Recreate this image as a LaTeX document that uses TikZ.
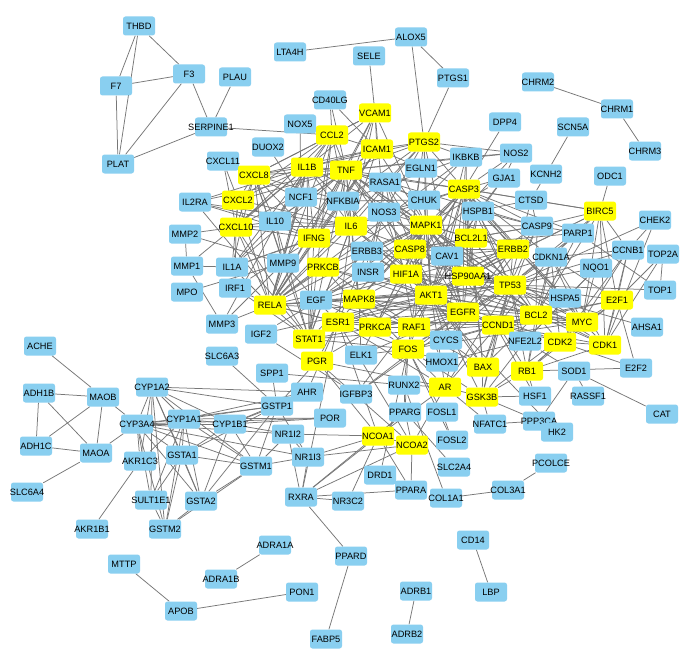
\documentclass[tikz,border=0pt]{standalone}
\usepackage{fontspec}
\setmainfont{Liberation Sans}
\usepackage{xcolor}
\usepackage{tikz}
\usetikzlibrary{positioning}
\definecolor{geneBlue}{HTML}{89CFF0}
\definecolor{hubYellow}{HTML}{FFFF00}
\definecolor{edgeGray}{HTML}{777777}
\pgfdeclarelayer{edges}
\pgfsetlayers{edges,main}
\newcommand{\gene}[1]{\makebox[0pt]{#1}}
\tikzset{
    gene_blue/.style={
        rectangle, rounded corners=2.5pt, fill=geneBlue, draw=none,
        minimum width=32pt, minimum height=19pt, inner sep=0pt,
        font=\fontsize{9.2}{11}\selectfont, text=black
    },
    gene_hub/.style={
        gene_blue, fill=hubYellow
    },
    ppi_edge/.style={
        draw=edgeGray, line width=0.75pt
    }
}

\begin{document}
\begin{tikzpicture}[x=1pt, y=-1pt]
    \useasboundingbox (0,0) rectangle (693,658);

    % coagulation / top-left
    \node[gene_blue] (THBD) at (139, 26) {\gene{THBD}};
    \node[gene_blue] (F3) at (189, 74) {\gene{F3}};
    \node[gene_blue] (F7) at (116, 86) {\gene{F7}};
    \node[gene_blue] (PLAU) at (235, 77) {\gene{PLAU}};
    \node[gene_blue] (SERPINE1) at (211, 127) {\gene{SERPINE1}};
    \node[gene_blue] (PLAT) at (118, 164) {\gene{PLAT}};
    \node[gene_blue] (LTA4H) at (290, 52) {\gene{LTA4H}};
    \node[gene_blue] (ALOX5) at (411, 37) {\gene{ALOX5}};
    \node[gene_blue] (SELE) at (369, 56) {\gene{SELE}};
    \node[gene_blue] (PTGS1) at (453, 78) {\gene{PTGS1}};
    \node[gene_blue] (CHRM2) at (538, 82) {\gene{CHRM2}};
    \node[gene_blue] (CHRM1) at (617, 109) {\gene{CHRM1}};
    \node[gene_blue] (CHRM3) at (645, 151) {\gene{CHRM3}};

    % upper core
    \node[gene_blue] (CD40LG) at (330, 100) {\gene{CD40LG}};
    \node[gene_hub] (VCAM1) at (375, 113) {\gene{VCAM1}};
    \node[gene_blue] (NOX5) at (300, 124) {\gene{NOX5}};
    \node[gene_hub] (CCL2) at (332, 135) {\gene{CCL2}};
    \node[gene_hub] (PTGS2) at (424, 142) {\gene{PTGS2}};
    \node[gene_hub] (ICAM1) at (377, 149) {\gene{ICAM1}};
    \node[gene_blue] (DUOX2) at (268, 147) {\gene{DUOX2}};
    \node[gene_hub] (IL1B) at (307, 167) {\gene{IL1B}};
    \node[gene_hub] (TNF) at (346, 170) {\gene{TNF}};
    \node[gene_blue] (EGLN1) at (421, 168) {\gene{EGLN1}};
    \node[gene_blue] (IKBKB) at (466, 157) {\gene{IKBKB}};
    \node[gene_blue] (NOS2) at (516, 153) {\gene{NOS2}};
    \node[gene_blue] (DPP4) at (505, 122) {\gene{DPP4}};
    \node[gene_blue] (SCN5A) at (573, 127) {\gene{SCN5A}};
    \node[gene_blue] (GJA1) at (504, 178) {\gene{GJA1}};
    \node[gene_blue] (KCNH2) at (546, 174) {\gene{KCNH2}};
    \node[gene_blue] (ODC1) at (610, 176) {\gene{ODC1}};
    \node[gene_blue] (CXCL11) at (223, 161) {\gene{CXCL11}};
    \node[gene_hub] (CXCL8) at (254, 175) {\gene{CXCL8}};
    \node[gene_blue] (IL2RA) at (195, 202) {\gene{IL2RA}};
    \node[gene_hub] (CXCL2) at (238, 200) {\gene{CXCL2}};
    \node[gene_blue] (NCF1) at (301, 197) {\gene{NCF1}};
    \node[gene_blue] (NFKBIA) at (343, 201) {\gene{NFKBIA}};
    \node[gene_blue] (RASA1) at (385, 182) {\gene{RASA1}};
    \node[gene_blue] (CHUK) at (424, 200) {\gene{CHUK}};
    \node[gene_hub] (CASP3) at (464, 189) {\gene{CASP3}};
    \node[gene_blue] (NOS3) at (384, 212) {\gene{NOS3}};
    \node[gene_blue] (HSPB1) at (478, 211) {\gene{HSPB1}};
    \node[gene_blue] (CTSD) at (531, 200) {\gene{CTSD}};
    \node[gene_hub] (BIRC5) at (600, 211) {\gene{BIRC5}};
    \node[gene_blue] (CHEK2) at (655, 220) {\gene{CHEK2}};
    \node[gene_hub] (CXCL10) at (236, 227) {\gene{CXCL10}};
    \node[gene_blue] (IL10) at (275, 221) {\gene{IL10}};
    \node[gene_hub] (IL6) at (351, 226) {\gene{IL6}};
    \node[gene_hub] (MAPK1) at (426, 225) {\gene{MAPK1}};
    \node[gene_blue] (CASP9) at (537, 226) {\gene{CASP9}};
    \node[gene_blue] (PARP1) at (578, 233) {\gene{PARP1}};
    \node[gene_hub] (BCL2L1) at (471, 238) {\gene{BCL2L1}};
    \node[gene_hub] (ERBB2) at (513, 249) {\gene{ERBB2}};
    \node[gene_blue] (CCNB1) at (628, 250) {\gene{CCNB1}};
    \node[gene_blue] (TOP2A) at (663, 254) {\gene{TOP2A}};

    % middle core
    \node[gene_blue] (MMP2) at (185, 234) {\gene{MMP2}};
    \node[gene_blue] (MMP1) at (187, 266) {\gene{MMP1}};
    \node[gene_blue] (MPO) at (187, 292) {\gene{MPO}};
    \node[gene_blue] (IL1A) at (232, 267) {\gene{IL1A}};
    \node[gene_blue] (IRF1) at (235, 288) {\gene{IRF1}};
    \node[gene_hub] (IFNG) at (314, 238) {\gene{IFNG}};
    \node[gene_blue] (MMP9) at (283, 263) {\gene{MMP9}};
    \node[gene_hub] (PRKCB) at (323, 267) {\gene{PRKCB}};
    \node[gene_blue] (ERBB3) at (367, 251) {\gene{ERBB3}};
    \node[gene_hub] (CASP8) at (410, 249) {\gene{CASP8}};
    \node[gene_blue] (CAV1) at (447, 256) {\gene{CAV1}};
    \node[gene_blue] (INSR) at (368, 272) {\gene{INSR}};
    \node[gene_hub] (HIF1A) at (406, 274) {\gene{HIF1A}};
    \node[gene_hub] (HSP90AA1) at (468, 276) {\gene{HSP90AA1}};
    \node[gene_hub] (TP53) at (510, 285) {\gene{TP53}};
    \node[gene_blue] (CDKN1A) at (551, 257) {\gene{CDKN1A}};
    \node[gene_blue] (NQO1) at (596, 268) {\gene{NQO1}};
    \node[gene_blue] (TOP1) at (660, 290) {\gene{TOP1}};
    \node[gene_blue] (HSPA5) at (565, 298) {\gene{HSPA5}};
    \node[gene_hub] (E2F1) at (617, 300) {\gene{E2F1}};
    \node[gene_blue] (AHSA1) at (647, 327) {\gene{AHSA1}};
    \node[gene_hub] (RELA) at (270, 305) {\gene{RELA}};
    \node[gene_blue] (EGF) at (316, 300) {\gene{EGF}};
    \node[gene_hub] (MAPK8) at (359, 299) {\gene{MAPK8}};
    \node[gene_hub] (AKT1) at (431, 295) {\gene{AKT1}};
    \node[gene_hub] (EGFR) at (463, 312) {\gene{EGFR}};
    \node[gene_hub] (BCL2) at (536, 315) {\gene{BCL2}};
    \node[gene_hub] (MYC) at (582, 322) {\gene{MYC}};
    \node[gene_blue] (MMP3) at (222, 324) {\gene{MMP3}};
    \node[gene_blue] (IGF2) at (261, 334) {\gene{IGF2}};
    \node[gene_hub] (ESR1) at (338, 322) {\gene{ESR1}};
    \node[gene_hub] (PRKCA) at (375, 327) {\gene{PRKCA}};
    \node[gene_hub] (RAF1) at (414, 327) {\gene{RAF1}};
    \node[gene_hub] (CCND1) at (498, 325) {\gene{CCND1}};
    \node[gene_hub] (STAT1) at (309, 339) {\gene{STAT1}};
    \node[gene_blue] (SLC6A3) at (222, 356) {\gene{SLC6A3}};
    \node[gene_blue] (ELK1) at (361, 355) {\gene{ELK1}};
    \node[gene_hub] (FOS) at (408, 349) {\gene{FOS}};
    \node[gene_blue] (CYCS) at (446, 340) {\gene{CYCS}};
    \node[gene_blue] (NFE2L2) at (525, 341) {\gene{NFE2L2}};
    \node[gene_hub] (CDK2) at (560, 342) {\gene{CDK2}};
    \node[gene_hub] (CDK1) at (605, 345) {\gene{CDK1}};
    \node[gene_hub] (PGR) at (317, 361) {\gene{PGR}};
    \node[gene_blue] (HMOX1) at (442, 362) {\gene{HMOX1}};
    \node[gene_hub] (BAX) at (483, 367) {\gene{BAX}};
    \node[gene_hub] (RB1) at (527, 371) {\gene{RB1}};
    \node[gene_blue] (SOD1) at (574, 371) {\gene{SOD1}};
    \node[gene_blue] (E2F2) at (636, 368) {\gene{E2F2}};

    % lower core
    \node[gene_blue] (SPP1) at (272, 373) {\gene{SPP1}};
    \node[gene_blue] (RUNX2) at (404, 385) {\gene{RUNX2}};
    \node[gene_hub] (AR) at (445, 387) {\gene{AR}};
    \node[gene_hub] (GSK3B) at (482, 397) {\gene{GSK3B}};
    \node[gene_blue] (HSF1) at (535, 396) {\gene{HSF1}};
    \node[gene_blue] (RASSF1) at (588, 396) {\gene{RASSF1}};
    \node[gene_blue] (CAT) at (662, 414) {\gene{CAT}};
    \node[gene_blue] (AHR) at (307, 392) {\gene{AHR}};
    \node[gene_blue] (IGFBP3) at (356, 394) {\gene{IGFBP3}};
    \node[gene_blue] (PPARG) at (405, 412) {\gene{PPARG}};
    \node[gene_blue] (FOSL1) at (442, 412) {\gene{FOSL1}};
    \node[gene_blue] (NFATC1) at (490, 424) {\gene{NFATC1}};
    \node[gene_blue] (PPP3CA) at (539, 421) {\gene{PPP3CA}};
    \node[gene_blue] (HK2) at (557, 432) {\gene{HK2}};
    \node[gene_blue] (GSTP1) at (277, 406) {\gene{GSTP1}};
    \node[gene_blue] (POR) at (330, 418) {\gene{POR}};
    \node[gene_blue] (NR1I2) at (288, 434) {\gene{NR1I2}};
    \node[gene_hub] (NCOA1) at (378, 436) {\gene{NCOA1}};
    \node[gene_hub] (NCOA2) at (412, 445) {\gene{NCOA2}};
    \node[gene_blue] (FOSL2) at (452, 440) {\gene{FOSL2}};
    \node[gene_blue] (SLC2A4) at (454, 467) {\gene{SLC2A4}};
    \node[gene_blue] (NR1I3) at (308, 457) {\gene{NR1I3}};
    \node[gene_blue] (GSTM1) at (256, 466) {\gene{GSTM1}};
    \node[gene_blue] (DRD1) at (380, 475) {\gene{DRD1}};
    \node[gene_blue] (RXRA) at (301, 497) {\gene{RXRA}};
    \node[gene_blue] (NR3C2) at (348, 501) {\gene{NR3C2}};
    \node[gene_blue] (PPARA) at (411, 490) {\gene{PPARA}};
    \node[gene_blue] (COL1A1) at (446, 498) {\gene{COL1A1}};
    \node[gene_blue] (COL3A1) at (508, 490) {\gene{COL3A1}};
    \node[gene_blue] (PCOLCE) at (551, 463) {\gene{PCOLCE}};

    % metabolism / bottom-left
    \node[gene_blue] (ACHE) at (40, 346) {\gene{ACHE}};
    \node[gene_blue] (ADH1B) at (39, 393) {\gene{ADH1B}};
    \node[gene_blue] (MAOB) at (103, 397) {\gene{MAOB}};
    \node[gene_blue] (CYP1A2) at (152, 387) {\gene{CYP1A2}};
    \node[gene_blue] (CYP3A4) at (137, 424) {\gene{CYP3A4}};
    \node[gene_blue] (CYP1A1) at (184, 419) {\gene{CYP1A1}};
    \node[gene_blue] (CYP1B1) at (230, 424) {\gene{CYP1B1}};
    \node[gene_blue] (ADH1C) at (36, 446) {\gene{ADH1C}};
    \node[gene_blue] (MAOA) at (96, 453) {\gene{MAOA}};
    \node[gene_blue] (AKR1C3) at (140, 461) {\gene{AKR1C3}};
    \node[gene_blue] (GSTA1) at (182, 455) {\gene{GSTA1}};
    \node[gene_blue] (SLC6A4) at (27, 492) {\gene{SLC6A4}};
    \node[gene_blue] (SULT1E1) at (151, 500) {\gene{SULT1E1}};
    \node[gene_blue] (GSTA2) at (201, 501) {\gene{GSTA2}};
    \node[gene_blue] (AKR1B1) at (92, 529) {\gene{AKR1B1}};
    \node[gene_blue] (GSTM2) at (165, 529) {\gene{GSTM2}};

    % bottom pairs
    \node[gene_blue] (MTTP) at (124, 564) {\gene{MTTP}};
    \node[gene_blue] (ADRA1A) at (275, 545) {\gene{ADRA1A}};
    \node[gene_blue] (ADRA1B) at (221, 579) {\gene{ADRA1B}};
    \node[gene_blue] (APOB) at (181, 611) {\gene{APOB}};
    \node[gene_blue] (PON1) at (302, 592) {\gene{PON1}};
    \node[gene_blue] (PPARD) at (351, 556) {\gene{PPARD}};
    \node[gene_blue] (FABP5) at (326, 639) {\gene{FABP5}};
    \node[gene_blue] (ADRB1) at (416, 591) {\gene{ADRB1}};
    \node[gene_blue] (ADRB2) at (407, 634) {\gene{ADRB2}};
    \node[gene_blue] (CD14) at (473, 540) {\gene{CD14}};
    \node[gene_blue] (LBP) at (491, 592) {\gene{LBP}};

    \begin{pgfonlayer}{edges}
    \fill[white] (0,0) rectangle (693,658);
    % small modules
    \foreach \t in {F7, PLAT, F3} \draw[ppi_edge] (THBD) -- (\t);
    \foreach \t in {F3, PLAT} \draw[ppi_edge] (F7) -- (\t);
    \foreach \t in {PLAT, SERPINE1} \draw[ppi_edge] (F3) -- (\t);
    \foreach \t in {PLAU, PLAT, CCL2} \draw[ppi_edge] (SERPINE1) -- (\t);
    \foreach \t in {LTA4H, PTGS1, PTGS2} \draw[ppi_edge] (ALOX5) -- (\t);
    \draw[ppi_edge] (PTGS1) -- (PTGS2);
    \draw[ppi_edge] (SELE) -- (VCAM1);
    \foreach \t in {CHRM2, CHRM3} \draw[ppi_edge] (CHRM1) -- (\t);
    \draw[ppi_edge] (SCN5A) -- (KCNH2);
    \draw[ppi_edge] (KCNH2) -- (CTSD);
    \draw[ppi_edge] (DPP4) -- (CASP3);
    \draw[ppi_edge] (ODC1) -- (BIRC5);
    \draw[ppi_edge] (CD14) -- (LBP);
    \draw[ppi_edge] (ADRB1) -- (ADRB2);
    \foreach \t in {FABP5, RXRA} \draw[ppi_edge] (PPARD) -- (\t);
    \foreach \t in {PON1, MTTP} \draw[ppi_edge] (APOB) -- (\t);
    \draw[ppi_edge] (ADRA1A) -- (ADRA1B);
    \foreach \t in {PCOLCE, COL1A1} \draw[ppi_edge] (COL3A1) -- (\t);
    \draw[ppi_edge] (COL1A1) -- (RUNX2);
    \draw[ppi_edge] (AKR1B1) -- (AKR1C3);
    \draw[ppi_edge] (SLC6A4) -- (MAOA);
    \foreach \t in {ACHE, ADH1B, ADH1C, MAOA, CYP3A4} \draw[ppi_edge] (MAOB) -- (\t);
    \foreach \t in {ADH1C, MAOA} \draw[ppi_edge] (ADH1B) -- (\t);
    \foreach \t in {ADH1C, CYP3A4} \draw[ppi_edge] (MAOA) -- (\t);
    \draw[ppi_edge] (CAT) -- (SOD1);
    \draw[ppi_edge] (RASSF1) -- (SOD1);
    \draw[ppi_edge] (TOP2A) -- (TOP1);
    \draw[ppi_edge] (AHSA1) -- (HSP90AA1);
    % drug metabolism cluster
    \foreach \t in {CYP3A4, CYP1A1, CYP1B1, GSTP1, GSTM1, GSTA1, GSTA2, SULT1E1, AKR1C3, AHR, GSTM2} \draw[ppi_edge] (CYP1A2) -- (\t);
    \foreach \t in {CYP1A1, CYP1B1, GSTA1, AKR1C3, SULT1E1, GSTM1, GSTA2, GSTM2, NR1I2, NR1I3, POR, GSTP1} \draw[ppi_edge] (CYP3A4) -- (\t);
    \foreach \t in {CYP1B1, GSTP1, GSTA1, GSTM1, SULT1E1, GSTA2, GSTM2, AHR, POR, AKR1C3} \draw[ppi_edge] (CYP1A1) -- (\t);
    \foreach \t in {GSTM1, GSTA2, GSTP1, AHR, NR1I2, POR, GSTA1} \draw[ppi_edge] (CYP1B1) -- (\t);
    \foreach \t in {GSTA2, GSTM2, GSTP1, SULT1E1, GSTM1} \draw[ppi_edge] (GSTA1) -- (\t);
    \foreach \t in {GSTM2, GSTM1, GSTP1} \draw[ppi_edge] (GSTA2) -- (\t);
    \foreach \t in {SULT1E1, GSTM1} \draw[ppi_edge] (GSTM2) -- (\t);
    \foreach \t in {GSTM1, AHR, SPP1, PGR, SLC6A3, NR1I3} \draw[ppi_edge] (GSTP1) -- (\t);
    \foreach \t in {NR1I3, RXRA, NCOA1, GSTM1} \draw[ppi_edge] (NR1I2) -- (\t);
    \foreach \t in {RXRA, NCOA1, NCOA2, GSTM1} \draw[ppi_edge] (NR1I3) -- (\t);
    \foreach \t in {NCOA1, NCOA2, PPARA, NR3C2, PPARG, ESR1} \draw[ppi_edge] (RXRA) -- (\t);
    \draw[ppi_edge] (NR3C2) -- (NCOA1);
    \foreach \t in {NCOA1, NCOA2} \draw[ppi_edge] (PPARA) -- (\t);
    \foreach \t in {NCOA2, ESR1, PGR, AR, PPARG} \draw[ppi_edge] (NCOA1) -- (\t);
    \foreach \t in {AR, ESR1, PPARG, PGR} \draw[ppi_edge] (NCOA2) -- (\t);
    \draw[ppi_edge] (DRD1) -- (FOS);
    \foreach \t in {FOS, FOSL1} \draw[ppi_edge] (FOSL2) -- (\t);
    \draw[ppi_edge] (SLC2A4) -- (PPARG);
    \draw[ppi_edge] (AHR) -- (ESR1);
    % right side
    \foreach \t in {TP53, CCNB1, CDK1} \draw[ppi_edge] (CHEK2) -- (\t);
    \foreach \t in {CDK1, E2F1} \draw[ppi_edge] (TOP2A) -- (\t);
    \draw[ppi_edge] (TOP1) -- (TP53);
    \foreach \t in {TP53, CASP3, CASP8, CASP9, BCL2, CDKN1A, TOP1} \draw[ppi_edge] (PARP1) -- (\t);
    \foreach \t in {CDK1, CDK2, TP53, CDKN1A, E2F1, MYC, BIRC5} \draw[ppi_edge] (CCNB1) -- (\t);
    \foreach \t in {NFE2L2, TP53, MYC} \draw[ppi_edge] (NQO1) -- (\t);
    \foreach \t in {HSP90AA1, TP53, BCL2, AKT1, CASP3, MYC} \draw[ppi_edge] (HSPA5) -- (\t);
    \foreach \t in {RB1, CDK1, CDK2, MYC, TP53, CCND1, E2F2, BCL2, CDKN1A} \draw[ppi_edge] (E2F1) -- (\t);
    \foreach \t in {RB1, CDK2} \draw[ppi_edge] (E2F2) -- (\t);
    \draw[ppi_edge] (HK2) -- (HIF1A);
    \foreach \t in {NFATC1, SOD1, GSK3B} \draw[ppi_edge] (PPP3CA) -- (\t);
    \foreach \t in {GSK3B, RB1, HSP90AA1} \draw[ppi_edge] (HSF1) -- (\t);
    \foreach \t in {GSK3B, AR} \draw[ppi_edge] (NFATC1) -- (\t);
    \draw[ppi_edge] (SOD1) -- (NFE2L2);
    % inflammation
    \foreach \t in {CCL2, TNF, ICAM1} \draw[ppi_edge] (CD40LG) -- (\t);
    \draw[ppi_edge] (NOX5) -- (NCF1);
    \draw[ppi_edge] (DUOX2) -- (NCF1);
    \foreach \t in {CCL2, ICAM1, TNF, IL1B, IL6, NFKBIA, RELA, CXCL8, NOS3, MAPK1} \draw[ppi_edge] (VCAM1) -- (\t);
    \foreach \t in {IL1B, TNF, IL6, CXCL8, ICAM1, IL10, IFNG, CXCL10, CXCL2, RELA, STAT1} \draw[ppi_edge] (CCL2) -- (\t);
    \foreach \t in {PTGS2, IL1B, TNF, IL6, NFKBIA, CXCL8, RELA, MAPK1, IFNG, IL10, EGLN1} \draw[ppi_edge] (ICAM1) -- (\t);
    \foreach \t in {IL1B, TNF, IL6, NOS2, CASP3, NFKBIA, AKT1, MAPK1, RELA, EGFR, IKBKB, HIF1A, NOS3} \draw[ppi_edge] (PTGS2) -- (\t);
    \foreach \t in {TNF, IL6, CXCL8, IL10, IFNG, CXCL2, CXCL10, NFKBIA, RELA, MAPK1, MMP9, IL1A, MMP3, MMP1, CASP3, IL2RA, STAT1, NCF1} \draw[ppi_edge] (IL1B) -- (\t);
    \foreach \t in {IL6, CXCL8, IL10, IFNG, NFKBIA, RELA, CASP8, CASP3, MAPK8, MAPK1, AKT1, IKBKB, CHUK, MMP9, IL1A, CXCL10, CXCL2, NOS3, NOS2, CASP9, BCL2, TP53, STAT1, IL2RA} \draw[ppi_edge] (TNF) -- (\t);
    \foreach \t in {HIF1A, CASP3} \draw[ppi_edge] (EGLN1) -- (\t);
    \foreach \t in {AKT1, MAPK1, RAF1, ERBB2, EGFR, INSR} \draw[ppi_edge] (RASA1) -- (\t);
    \foreach \t in {CXCL10, CXCL8, CXCL2} \draw[ppi_edge] (CXCL11) -- (\t);
    \foreach \t in {IL10, IL6, IFNG, STAT1} \draw[ppi_edge] (IL2RA) -- (\t);
    \foreach \t in {CXCL2, CXCL10, IL6, IL10, IFNG, NFKBIA, RELA, MMP9, IL1A, STAT1} \draw[ppi_edge] (CXCL8) -- (\t);
    \foreach \t in {CXCL10, IL6, IL10, RELA, IL1A} \draw[ppi_edge] (CXCL2) -- (\t);
    \foreach \t in {MMP2, IFNG, IL10, IL6, STAT1, IRF1, RELA} \draw[ppi_edge] (CXCL10) -- (\t);
    \foreach \t in {MMP1, MMP9} \draw[ppi_edge] (MMP2) -- (\t);
    \foreach \t in {IL1A, MMP3} \draw[ppi_edge] (MMP1) -- (\t);
    \draw[ppi_edge] (MPO) -- (MMP9);
    \foreach \t in {MMP9, RELA} \draw[ppi_edge] (MMP3) -- (\t);
    \foreach \t in {IL6, IL10, RELA, IFNG} \draw[ppi_edge] (IL1A) -- (\t);
    \foreach \t in {STAT1, RELA, IFNG} \draw[ppi_edge] (IRF1) -- (\t);
    \foreach \t in {NFKBIA, RELA} \draw[ppi_edge] (NCF1) -- (\t);
    \foreach \t in {RELA, CHUK, IKBKB, IL6, AKT1, MAPK8} \draw[ppi_edge] (NFKBIA) -- (\t);
    \foreach \t in {IKBKB, RELA, AKT1, MAPK1} \draw[ppi_edge] (CHUK) -- (\t);
    \foreach \t in {RELA, AKT1, HSP90AA1, CASP3, NOS2} \draw[ppi_edge] (IKBKB) -- (\t);
    % apoptosis and cell cycle
    \foreach \t in {CASP8, CASP9, BCL2, BCL2L1, BAX, TP53, AKT1, MAPK1, MAPK8, HSPB1, CTSD, BIRC5, CYCS, GJA1, CDKN1A, HIF1A, ERBB2, EGFR, MYC, PRKCA, CAV1, HSP90AA1, IL6, NOS2, NOS3} \draw[ppi_edge] (CASP3) -- (\t);
    \foreach \t in {AKT1, CAV1, HSP90AA1, HIF1A, MAPK1, IL6, ESR1, INSR} \draw[ppi_edge] (NOS3) -- (\t);
    \foreach \t in {HIF1A, GJA1} \draw[ppi_edge] (NOS2) -- (\t);
    \foreach \t in {MAPK1, CAV1, HSPB1} \draw[ppi_edge] (GJA1) -- (\t);
    \foreach \t in {BIRC5, TP53, HSPB1, CASP9} \draw[ppi_edge] (CTSD) -- (\t);
    \foreach \t in {HSP90AA1, AKT1, CASP9, TP53, BCL2L1, HSPA5} \draw[ppi_edge] (HSPB1) -- (\t);
    \foreach \t in {CASP9, TP53, CDK1, E2F1, MYC, BCL2, CDKN1A, HSP90AA1, AKT1} \draw[ppi_edge] (BIRC5) -- (\t);
    \foreach \t in {CASP8, AKT1, BCL2, BCL2L1, CYCS, TP53, BAX, MAPK1} \draw[ppi_edge] (CASP9) -- (\t);
    \foreach \t in {TP53, CDK2, CDK1, CCND1, MYC, RB1, AKT1, BCL2} \draw[ppi_edge] (CDKN1A) -- (\t);
    \foreach \t in {TP53, CCND1, CDK2, CDK1, RB1, BCL2, AKT1, EGFR, GSK3B, MAPK1, ESR1, FOS, HIF1A} \draw[ppi_edge] (MYC) -- (\t);
    \foreach \t in {CDK2, CCND1, RB1, TP53, BCL2} \draw[ppi_edge] (CDK1) -- (\t);
    \foreach \t in {CCND1, RB1, TP53, AKT1} \draw[ppi_edge] (CDK2) -- (\t);
    \foreach \t in {TP53, BAX, BCL2L1, AKT1, CCND1, MAPK1, MAPK8, CASP8, CYCS, HIF1A, RB1} \draw[ppi_edge] (BCL2) -- (\t);
    \foreach \t in {TP53, RB1, AKT1, EGFR, ESR1, GSK3B, MAPK1, FOS, AR, STAT1} \draw[ppi_edge] (CCND1) -- (\t);
    \foreach \t in {HMOX1, NQO1, GSK3B, TP53, AKT1} \draw[ppi_edge] (NFE2L2) -- (\t);
    \draw[ppi_edge] (RB1) -- (TP53);
    \foreach \t in {AKT1, TP53, AR, RB1, FOS, BAX} \draw[ppi_edge] (GSK3B) -- (\t);
    \foreach \t in {TP53, BCL2L1, CYCS, AKT1, CASP8, MAPK8} \draw[ppi_edge] (BAX) -- (\t);
    \foreach \t in {FOS, EGFR, AKT1, ESR1, TP53, RUNX2, PGR} \draw[ppi_edge] (AR) -- (\t);
    \foreach \t in {HIF1A, FOS} \draw[ppi_edge] (HMOX1) -- (\t);
    \foreach \t in {TP53, AKT1} \draw[ppi_edge] (CYCS) -- (\t);
    % signalling
    \foreach \t in {ELK1, MAPK1, MAPK8, ESR1, EGFR, RUNX2, PPARG, FOSL1, AKT1, TP53, STAT1, PRKCA, RAF1} \draw[ppi_edge] (FOS) -- (\t);
    \foreach \t in {SPP1, PPARG} \draw[ppi_edge] (RUNX2) -- (\t);
    \foreach \t in {AKT1, IGF2, TP53, EGFR} \draw[ppi_edge] (IGFBP3) -- (\t);
    \foreach \t in {MAPK1, MAPK8, EGFR} \draw[ppi_edge] (ELK1) -- (\t);
    \foreach \t in {ESR1, AKT1} \draw[ppi_edge] (PGR) -- (\t);
    \foreach \t in {IFNG, RELA, ESR1, EGFR, IL6, MAPK1} \draw[ppi_edge] (STAT1) -- (\t);
    \foreach \t in {EGFR, AKT1, MAPK1, TP53, EGF, RELA, ERBB2, PRKCA} \draw[ppi_edge] (ESR1) -- (\t);
    \foreach \t in {RAF1, EGFR, AKT1, MAPK1, PRKCB} \draw[ppi_edge] (PRKCA) -- (\t);
    \foreach \t in {MAPK1, AKT1, EGFR, PRKCB} \draw[ppi_edge] (RAF1) -- (\t);
    \foreach \t in {INSR, AKT1} \draw[ppi_edge] (IGF2) -- (\t);
    \foreach \t in {RELA, IL10, EGF} \draw[ppi_edge] (MMP9) -- (\t);
    \foreach \t in {IL6, AKT1, TP53, ESR1, MAPK8, EGFR, IFNG, MAPK1, HIF1A, PRKCB} \draw[ppi_edge] (RELA) -- (\t);
    \foreach \t in {EGFR, AKT1, MAPK1, ERBB2, ERBB3, PRKCA, STAT1, RAF1, INSR} \draw[ppi_edge] (EGF) -- (\t);
    \foreach \t in {TP53, AKT1, MAPK1, EGFR, HIF1A} \draw[ppi_edge] (MAPK8) -- (\t);
    \foreach \t in {AKT1, EGFR, MAPK1, ERBB3} \draw[ppi_edge] (INSR) -- (\t);
    \foreach \t in {ERBB2, EGFR, AKT1, MAPK1} \draw[ppi_edge] (ERBB3) -- (\t);
    \foreach \t in {AKT1, MAPK1, EGFR} \draw[ppi_edge] (PRKCB) -- (\t);
    \foreach \t in {IL6, IL10, TP53} \draw[ppi_edge] (IFNG) -- (\t);
    \foreach \t in {IL10, STAT1, AKT1, MAPK1, MAPK8, EGFR, TP53, HIF1A, ESR1} \draw[ppi_edge] (IL6) -- (\t);
    \draw[ppi_edge] (IL10) -- (STAT1);
    \foreach \t in {AKT1, TP53, EGFR, HIF1A, CAV1, CASP8, HSP90AA1, ERBB2, BCL2L1} \draw[ppi_edge] (MAPK1) -- (\t);
    \foreach \t in {AKT1, TP53, BCL2L1, HSP90AA1} \draw[ppi_edge] (CASP8) -- (\t);
    \foreach \t in {EGFR, AKT1, HSP90AA1, TP53, ERBB2, HIF1A} \draw[ppi_edge] (CAV1) -- (\t);
    \foreach \t in {AKT1, TP53, EGFR, HSP90AA1} \draw[ppi_edge] (HIF1A) -- (\t);
    \foreach \t in {AKT1, TP53, EGFR, ERBB2, BCL2L1, CDK1} \draw[ppi_edge] (HSP90AA1) -- (\t);
    \foreach \t in {AKT1, EGFR, BCL2L1, ERBB2} \draw[ppi_edge] (TP53) -- (\t);
    \foreach \t in {EGFR, BCL2L1, ERBB2} \draw[ppi_edge] (AKT1) -- (\t);
    \draw[ppi_edge] (EGFR) -- (ERBB2);
    \end{pgfonlayer}
\end{tikzpicture}
\end{document}
